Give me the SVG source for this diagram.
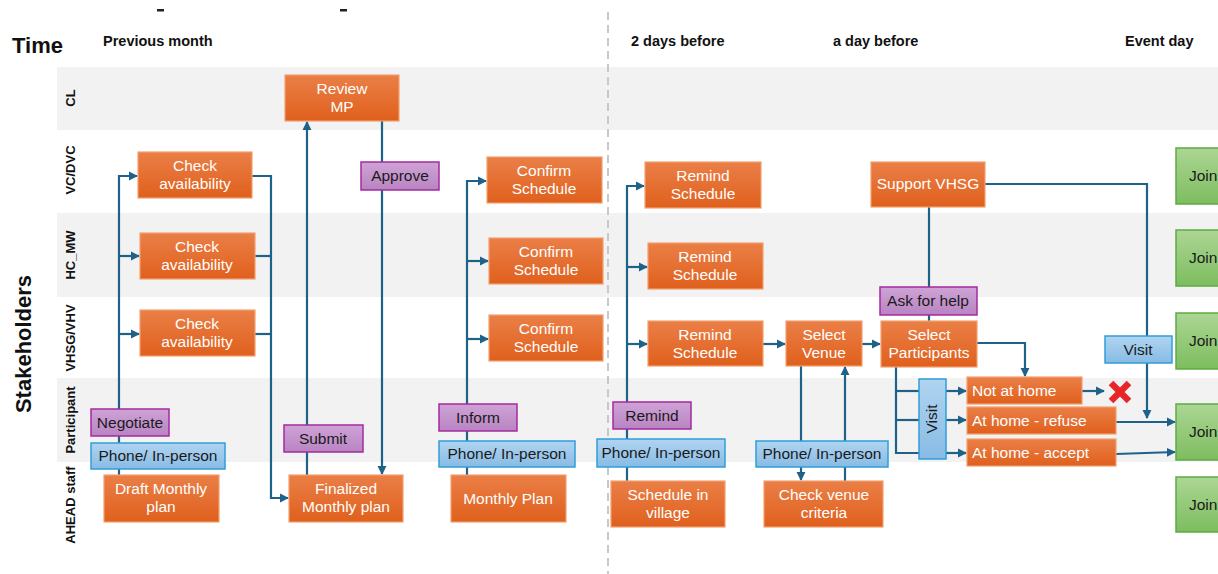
<svg xmlns="http://www.w3.org/2000/svg" width="1218" height="574" viewBox="0 0 1218 574">
<style>
.lane{fill:#f2f2f2}
.hdr{font-family:"Liberation Sans",Arial,sans-serif;font-weight:bold;fill:#111}
.ln{font-family:"Liberation Sans",Arial,sans-serif;font-weight:bold;font-size:13px;fill:#111;text-anchor:middle}
.o rect{fill:url(#gO);stroke:#f2a06e;stroke-width:1.2}
.o text{font-family:"Liberation Sans",Arial,sans-serif;font-size:15.5px;fill:#fff;text-anchor:middle}
.o text.l{text-anchor:start}
.p rect{fill:url(#gP);stroke:#a52a9f;stroke-width:1.5}
.b rect{fill:url(#gB);stroke:#2f9fd8;stroke-width:1.5}
.g rect{fill:url(#gG);stroke:#5eab44;stroke-width:1.5}
.p text,.b text,.g text{font-family:"Liberation Sans",Arial,sans-serif;font-size:15.5px;fill:#1a1a1a;text-anchor:middle}
.g text{text-anchor:start}
#connectors path{fill:none;stroke:#1f6289;stroke-width:2.2}
.a{marker-end:url(#ah)}
</style>
<defs>
<linearGradient id="gO" x1="0" y1="0" x2="0" y2="1"><stop offset="0" stop-color="#ea7f47"/><stop offset="1" stop-color="#e0601d"/></linearGradient>
<linearGradient id="gP" x1="0" y1="0" x2="0" y2="1"><stop offset="0" stop-color="#cfa3d6"/><stop offset="1" stop-color="#b884c2"/></linearGradient>
<linearGradient id="gB" x1="0" y1="0" x2="0" y2="1"><stop offset="0" stop-color="#b0d4f0"/><stop offset="1" stop-color="#88bbe5"/></linearGradient>
<linearGradient id="gG" x1="0" y1="0" x2="0" y2="1"><stop offset="0" stop-color="#acd694"/><stop offset="1" stop-color="#7dbd5f"/></linearGradient>
<marker id="ah" viewBox="0 0 10 10" refX="9" refY="5" markerWidth="4.2" markerHeight="4.2" orient="auto" markerUnits="strokeWidth"><path d="M0,0 L10,5 L0,10 z" fill="#1f6289"/></marker>
</defs>
<rect width="1218" height="574" fill="#fff"/>
<!-- lanes -->
<rect class="lane" x="57" y="67" width="1161" height="63"/>
<rect class="lane" x="57" y="213" width="1161" height="84"/>
<rect class="lane" x="57" y="378" width="1161" height="84"/>
<!-- stray marks -->
<rect x="157" y="9" width="7" height="2.5" fill="#222"/>
<rect x="340" y="9" width="7" height="2.5" fill="#222"/>
<!-- divider -->
<line x1="608" y1="12" x2="608" y2="574" stroke="#c8c8c8" stroke-width="2" stroke-dasharray="8,5"/>
<!-- headers -->
<text class="hdr" x="12" y="53" font-size="22">Time</text>
<text class="hdr" x="103" y="46" font-size="14.5">Previous month</text>
<text class="hdr" x="631" y="46" font-size="14.5">2 days before</text>
<text class="hdr" x="833" y="46" font-size="14.5">a day before</text>
<text class="hdr" x="1125" y="46" font-size="14.5">Event day</text>
<text class="hdr" x="31" y="344" font-size="22" text-anchor="middle" transform="rotate(-90 31 344)">Stakeholders</text>
<text class="ln" x="75" y="98" transform="rotate(-90 75 98)">CL</text>
<text class="ln" x="75" y="170" transform="rotate(-90 75 170)">VC/DVC</text>
<text class="ln" x="75" y="255" transform="rotate(-90 75 255)">HC_MW</text>
<text class="ln" x="75" y="338" transform="rotate(-90 75 338)">VHSG/VHV</text>
<text class="ln" x="75" y="420" transform="rotate(-90 75 420)">Participant</text>
<text class="ln" x="75" y="505" transform="rotate(-90 75 505)">AHEAD staff</text>
<!-- connectors -->
<g id="connectors">
<path class="a" d="M119,475 V176 H137"/>
<path class="a" d="M119,256 H139"/>
<path class="a" d="M119,334 H139"/>
<path d="M252,176 H271 V498"/>
<path d="M255,256 H271"/>
<path d="M255,334 H271"/>
<path class="a" d="M271,497 V498 H288"/>
<path class="a" d="M307,475 V122"/>
<path class="a" d="M382,121 V474"/>
<path class="a" d="M467,475 V181 H486"/>
<path class="a" d="M467,261 H488"/>
<path class="a" d="M467,339 H488"/>
<path class="a" d="M627,481 V186 H644"/>
<path class="a" d="M627,267 H647"/>
<path class="a" d="M627,344 H647"/>
<path class="a" d="M763,344 H785"/>
<path class="a" d="M862,344 H880"/>
<path class="a" d="M801,366 V480"/>
<path class="a" d="M845,481 V367"/>
<path d="M929,207 V321"/>
<path class="a" d="M985,184 H1147 V418"/>
<path class="a" d="M977,343 H1025 V376"/>
<path d="M896,367 V453 H919"/>
<path d="M896,391 H919"/>
<path d="M896,420 H919"/>
<path class="a" d="M946,391 H966"/>
<path class="a" d="M946,420 H966"/>
<path class="a" d="M946,453 H966"/>
<path class="a" d="M1082,391 H1104"/>
<path class="a" d="M1116,422 H1175"/>
<path class="a" d="M1116,454 L1175,452"/>
</g>
<!-- red X -->
<g id="reject">
<path d="M1111,383 L1129,401 M1129,383 L1111,401" stroke="#e8262a" stroke-width="6.5" stroke-linecap="butt"/>
</g>
<!-- nodes -->
<g id="review-mp" class="o"><rect x="285" y="75" width="114" height="46"/><text x="342" y="94">Review</text><text x="342" y="112">MP</text></g>
<g id="check-vc" class="o"><rect x="138" y="152" width="114" height="46"/><text x="195" y="171">Check</text><text x="195" y="189">availability</text></g>
<g id="check-hc" class="o"><rect x="140" y="233" width="115" height="46"/><text x="197" y="252">Check</text><text x="197" y="270">availability</text></g>
<g id="check-vhsg" class="o"><rect x="140" y="310" width="115" height="46"/><text x="197" y="329">Check</text><text x="197" y="347">availability</text></g>
<g id="negotiate" class="p"><rect x="91" y="409" width="78" height="27"/><text x="130" y="428">Negotiate</text></g>
<g id="phone1" class="b"><rect x="91" y="443" width="134" height="26"/><text x="158" y="461">Phone/ In-person</text></g>
<g id="draft-plan" class="o"><rect x="104" y="475" width="115" height="47"/><text x="161" y="494">Draft Monthly</text><text x="161" y="512">plan</text></g>
<g id="submit" class="p"><rect x="284" y="425" width="79" height="27"/><text x="323" y="444">Submit</text></g>
<g id="approve" class="p"><rect x="361" y="162" width="78" height="28"/><text x="400" y="181">Approve</text></g>
<g id="finalized-plan" class="o"><rect x="289" y="475" width="114" height="47"/><text x="346" y="494">Finalized</text><text x="346" y="512">Monthly plan</text></g>
<g id="confirm-vc" class="o"><rect x="487" y="157" width="115" height="46"/><text x="544" y="176">Confirm</text><text x="544" y="194">Schedule</text></g>
<g id="confirm-hc" class="o"><rect x="489" y="238" width="114" height="46"/><text x="546" y="257">Confirm</text><text x="546" y="275">Schedule</text></g>
<g id="confirm-vhsg" class="o"><rect x="489" y="315" width="114" height="46"/><text x="546" y="334">Confirm</text><text x="546" y="352">Schedule</text></g>
<g id="inform" class="p"><rect x="439" y="404" width="78" height="27"/><text x="478" y="423">Inform</text></g>
<g id="phone2" class="b"><rect x="439" y="441" width="136" height="26"/><text x="507" y="459">Phone/ In-person</text></g>
<g id="monthly-plan" class="o"><rect x="451" y="475" width="115" height="47"/><text x="508" y="504">Monthly Plan</text></g>
<g id="remind-vc" class="o"><rect x="645" y="162" width="116" height="46"/><text x="703" y="181">Remind</text><text x="703" y="199">Schedule</text></g>
<g id="remind-hc" class="o"><rect x="648" y="243" width="115" height="46"/><text x="705" y="262">Remind</text><text x="705" y="280">Schedule</text></g>
<g id="remind-vhsg" class="o"><rect x="648" y="321" width="115" height="45"/><text x="705" y="340">Remind</text><text x="705" y="358">Schedule</text></g>
<g id="select-venue" class="o"><rect x="786" y="321" width="76" height="45"/><text x="824" y="340">Select</text><text x="824" y="358">Venue</text></g>
<g id="remind" class="p"><rect x="613" y="402" width="78" height="27"/><text x="652" y="421">Remind</text></g>
<g id="phone3" class="b"><rect x="597" y="439" width="128" height="28"/><text x="661" y="458">Phone/ In-person</text></g>
<g id="schedule-village" class="o"><rect x="611" y="481" width="114" height="46"/><text x="668" y="500">Schedule in</text><text x="668" y="518">village</text></g>
<g id="phone4" class="b"><rect x="756" y="441" width="132" height="26"/><text x="822" y="459">Phone/ In-person</text></g>
<g id="check-venue" class="o"><rect x="764" y="481" width="119" height="46"/><text x="824" y="500">Check venue</text><text x="824" y="518">criteria</text></g>
<g id="support-vhsg" class="o"><rect x="871" y="162" width="114" height="45"/><text x="928" y="189">Support VHSG</text></g>
<g id="ask-help" class="p"><rect x="880" y="287" width="97" height="28"/><text x="928" y="306">Ask for help</text></g>
<g id="select-participants" class="o"><rect x="881" y="321" width="96" height="46"/><text x="929" y="340">Select</text><text x="929" y="358">Participants</text></g>
<g id="visit1" class="b"><rect x="919" y="379" width="27" height="80"/><text x="937" y="419" transform="rotate(-90 937 419)">Visit</text></g>
<g id="not-home" class="o"><rect x="967" y="377" width="115" height="27"/><text class="l" x="972" y="396">Not at home</text></g>
<g id="home-refuse" class="o"><rect x="967" y="407" width="149" height="27"/><text class="l" x="972" y="426">At home - refuse</text></g>
<g id="home-accept" class="o"><rect x="967" y="439" width="149" height="27"/><text class="l" x="972" y="458">At home - accept</text></g>
<g id="visit2" class="b"><rect x="1105" y="336" width="67" height="27"/><text x="1138" y="355">Visit</text></g>
<g id="join1" class="g"><rect x="1176" y="148" width="60" height="56"/><text x="1189" y="181">Join</text></g>
<g id="join2" class="g"><rect x="1176" y="230" width="60" height="56"/><text x="1189" y="263">Join</text></g>
<g id="join3" class="g"><rect x="1176" y="313" width="60" height="56"/><text x="1189" y="346">Join</text></g>
<g id="join4" class="g"><rect x="1176" y="404" width="60" height="56"/><text x="1189" y="437">Join</text></g>
<g id="join5" class="g"><rect x="1176" y="477" width="60" height="55"/><text x="1189" y="510">Join</text></g>
</svg>
